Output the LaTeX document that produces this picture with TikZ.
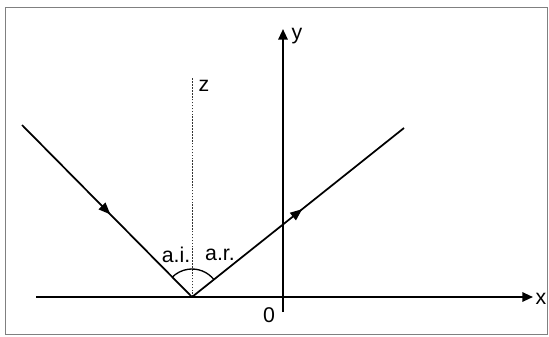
\documentclass[tikz,border=0pt]{standalone}
\usepackage{fontspec}
\setmainfont{Liberation Sans}
\usetikzlibrary{arrows.meta,decorations.markings,calc}

\begin{document}
\begin{tikzpicture}[
    x=0.75pt, y=-0.75pt,
    font=\fontsize{16}{18}\selectfont,
    axis/.style={line width=1.5pt, -{Triangle[length=8pt,width=7pt]}},
    ray/.style={line width=1.3pt, postaction={decorate},
      decoration={markings, mark=at position 0.52 with {\arrow{Triangle[length=9pt,width=7pt]}}}},
    normal/.style={line width=0.6pt, dash pattern=on 1.2pt off 1pt, black!80},
    frame/.style={draw=gray, line width=1.2pt}
  ]
    \useasboundingbox (0,0) rectangle (549,336);
    \draw[frame] (5.5,7.5) rectangle (547.5,334.5);

    % points
    \coordinate (O) at (192,297);
    \coordinate (src) at (22,125);
    \coordinate (dst) at (404,128);
    \coordinate (ztop) at (192,77);
    \coordinate (xstart) at (36,297);
    \coordinate (xend) at (533,297);
    \coordinate (ystart) at (283,312);
    \coordinate (yend) at (283,29);

    % axes and normal
    \draw[axis] (xstart) -- (xend);
    \draw[axis] (ystart) -- (yend);
    \draw[normal] (O) -- (ztop);

    % rays
    \draw[ray] (src) -- (O);
    \draw[ray] (O) -- (dst);
    \draw[line width=1pt] ($(O)+(-38.6:28)$) arc[start angle=-38.6, end angle=-136, radius=28];

    % labels
    \node (xlab) at (541,299) {x};
    \node (ylab) at (297,36) {y};
    \node (zlab) at (204,86) {z};
    \node (zero) at (269,315) {0};
    \node (ai) at (176,255) {a.i.};
    \node (ar) at (220,255) {a.r.};
  \end{tikzpicture}
\end{document}
